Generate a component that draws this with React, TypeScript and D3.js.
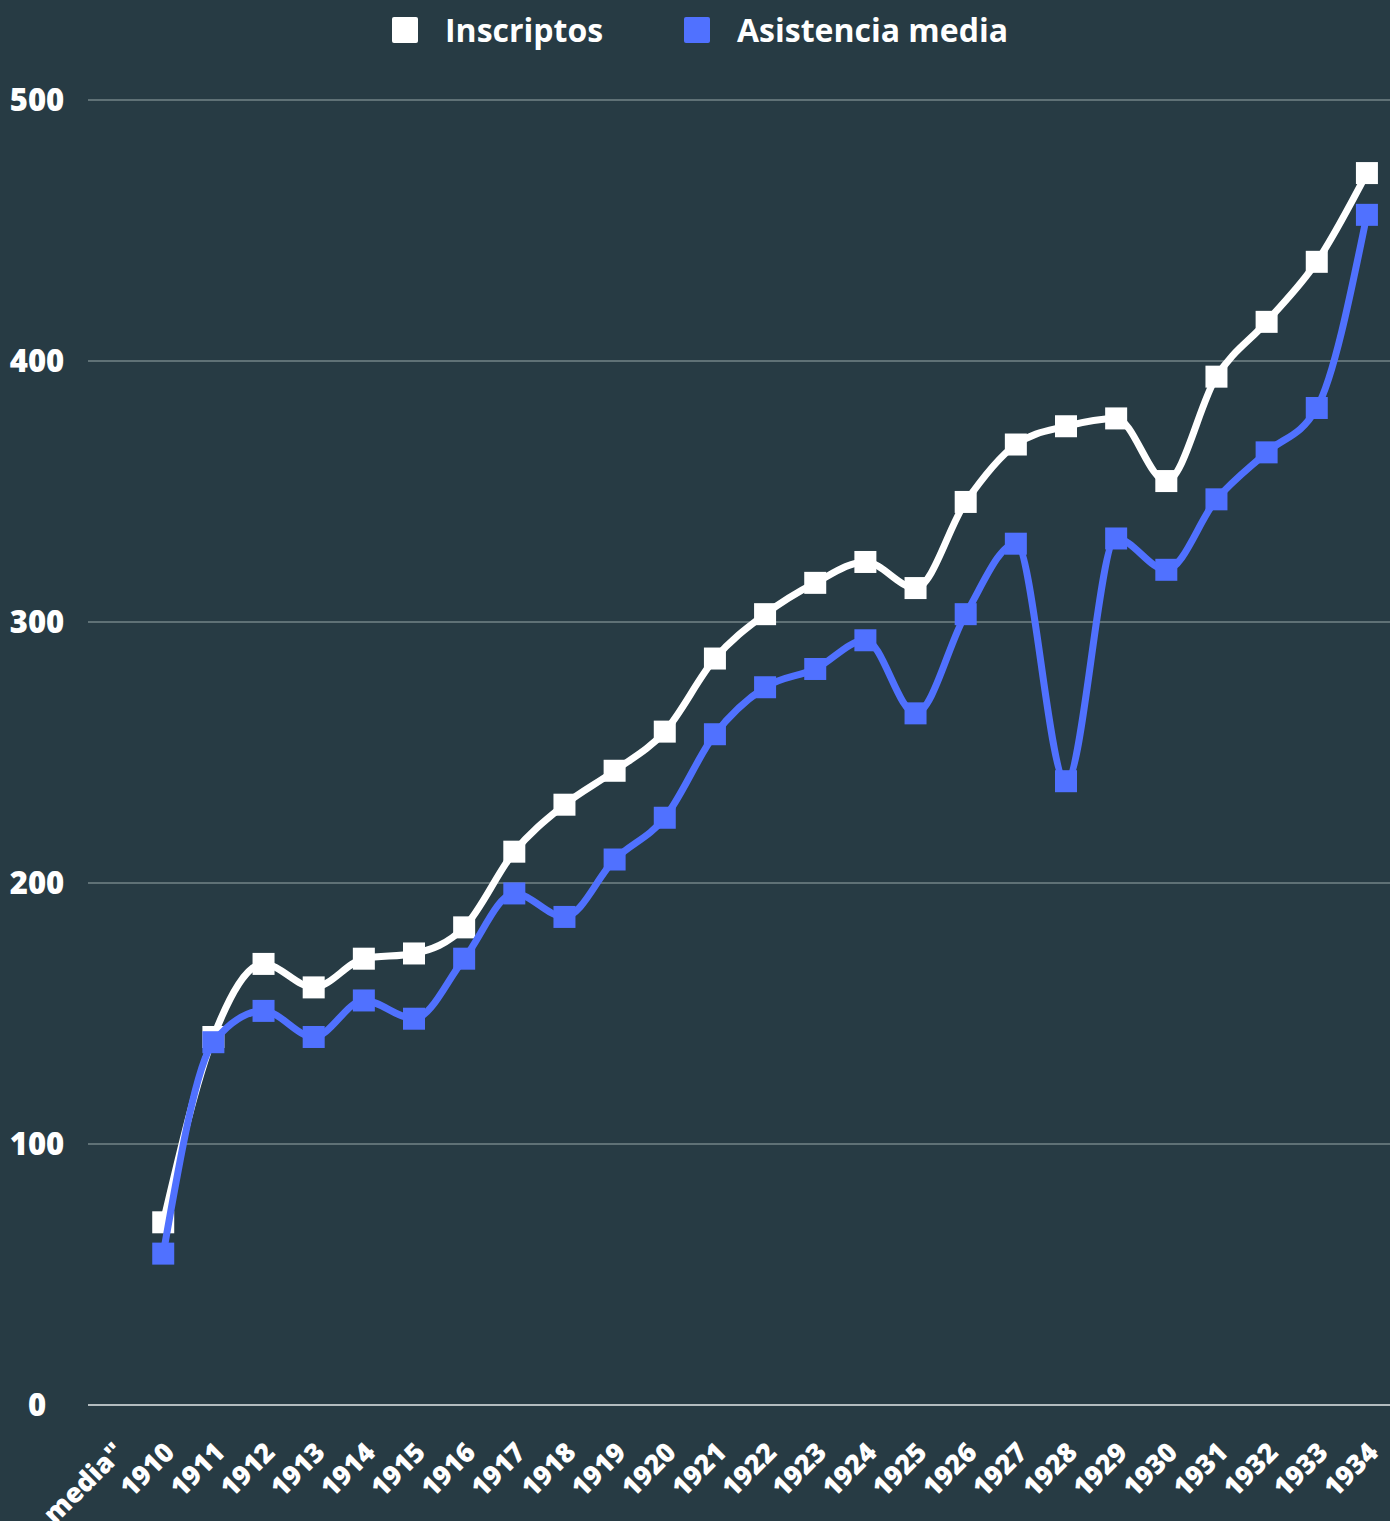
import React from "react";
import * as d3 from "d3";

const categories = ['media"', "1910", "1911", "1912", "1913", "1914", "1915", "1916", "1917", "1918", "1919", "1920", "1921", "1922", "1923", "1924", "1925", "1926", "1927", "1928", "1929", "1930", "1931", "1932", "1933", "1934"];
const inscriptos: (number | null)[] = [null, 70, 141, 169, 160, 171, 173, 183, 212, 230, 243, 258, 286, 303, 315, 323, 313, 346, 368, 375, 378, 354, 394, 415, 438, 472];
const asistencia: (number | null)[] = [null, 58, 139, 151, 141, 155, 148, 171, 196, 187, 209, 225, 257, 275, 282, 293, 265, 303, 330, 239, 332, 320, 347, 365, 382, 456];
const yTicks = [0, 100, 200, 300, 400, 500];
const seriesNames = ["Inscriptos", "Asistencia media"];
const colors = ["#ffffff", "#5071ff"];

const W = 1390;
const H = 1521;
const BG = "#273b44";
const FONT = "'Open Sans', 'Noto Sans', sans-serif";

export default function App() {
  const x = d3.scaleBand<string>().domain(categories).range([88, 1392]).padding(0);
  const y = d3.scaleLinear().domain([0, 500]).range([1405, 100]);
  const cx = (c: string) => (x(c) as number) + x.bandwidth() / 2;

  const series = [inscriptos, asistencia];
  const line = d3
    .line<{ c: string; v: number | null }>()
    .defined((d) => d.v !== null)
    .x((d) => cx(d.c))
    .y((d) => y(d.v as number))
    .curve(d3.curveMonotoneX);

  const legendX = [392, 684];
  const ms = 22;

  return (
    <svg width={W} height={H} style={{ display: "block", position: "absolute", left: 0, top: 0, background: BG }}>
      <rect x={0} y={0} width={W} height={H} fill={BG} />
      {yTicks.map((t) => (
        <g key={t}>
          <line x1={88} x2={1390} y1={y(t)} y2={y(t)} stroke={t === 0 ? "#b3bcbf" : "#5f7176"} strokeWidth={2} />
          <text x={37} y={y(t)} dy="0.36em" textAnchor="middle" fill="#fff" fontFamily={FONT} fontWeight={800} fontSize={31}>
            {t}
          </text>
        </g>
      ))}
      {categories.map((c) => (
        <text
          key={c}
          transform={`translate(${cx(c) + 13},${1454}) rotate(-45)`}
          textAnchor="end"
          fill="#fff"
          fontFamily={FONT}
          fontWeight={800}
          fontSize={27}
        >
          {c}
        </text>
      ))}
      {series.map((s, i) => {
        const data = categories.map((c, j) => ({ c, v: s[j] }));
        return (
          <g key={i}>
            <path d={line(data) || ""} fill="none" stroke={colors[i]} strokeWidth={7} strokeLinejoin="round" />
            {data
              .filter((d) => d.v !== null)
              .map((d) => (
                <rect key={d.c} x={cx(d.c) - ms / 2} y={y(d.v as number) - ms / 2} width={ms} height={ms} fill={colors[i]} />
              ))}
          </g>
        );
      })}
      {seriesNames.map((n, i) => (
        <g key={n}>
          <rect x={legendX[i]} y={17} width={26} height={26} rx={2} fill={colors[i]} />
          <text x={legendX[i] + 53} y={30} dy="0.36em" fill="#fff" fontFamily={FONT} fontWeight={700} fontSize={32}>
            {n}
          </text>
        </g>
      ))}
    </svg>
  );
}
